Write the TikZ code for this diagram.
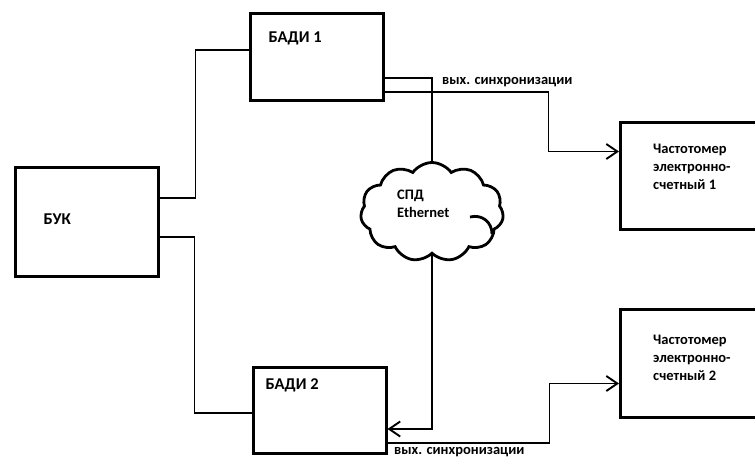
\documentclass[tikz,border=0pt]{standalone}
\usepackage{fontspec}
\setmainfont{Carlito}
\usetikzlibrary{arrows.meta,shapes.symbols}

\tikzset{
  unit/.style={draw, line width=3pt, inner sep=0pt},
  wire/.style={line width=1.9pt},
  flow/.style={wire, -{Straight Barb[length=11pt,width=15pt]}},
  title/.style={font=\fontsize{16.5}{19}\selectfont\bfseries, inner sep=0pt},
  note/.style={font=\fontsize{14.5}{18}\selectfont\bfseries, inner sep=0pt, align=left},
}

\begin{document}
\begin{tikzpicture}[x=1pt,y=-1pt]
  \useasboundingbox (0,0) rectangle (755,461);
  \clip (0,0) rectangle (755,461);

  % Blocks
  \node[unit, minimum width=143pt, minimum height=109pt] (buk) at (86.5,221.5) {};
  \node[unit, minimum width=133pt, minimum height=87pt] (badi1) at (316.5,56.5) {};
  \node[unit, minimum width=133pt, minimum height=86pt] (badi2) at (319.5,410) {};
  \node[unit, anchor=north west, minimum width=160pt, minimum height=107pt] (freq1) at (619,121) {};
  \node[unit, anchor=north west, minimum width=160pt, minimum height=108pt] (freq2) at (619,308) {};

  % Network cloud
  \node[cloud, draw, line width=2.8pt, cloud puffs=11, cloud puff arc=110, aspect=1.5,
        minimum width=143pt, minimum height=99pt, inner sep=0pt] (cloud) at (432,212) {};
  \draw[line width=2.8pt] ([shift={(38,5)}]cloud.center) .. controls ([shift={(50,2)}]cloud.center)
    and ([shift={(60,10)}]cloud.center) .. ([shift={(60,22)}]cloud.center);

  % Texts
  \node[title, anchor=west] (buktext) at ([shift={(30,-2.5)}]buk.west) {БУК};
  \node[title, anchor=west] (badi1text) at ([shift={(20,27)}]badi1.north west) {БАДИ 1};
  \node[title, anchor=west] (badi2text) at ([shift={(14,20)}]badi2.north west) {БАДИ 2};
  \node[note, anchor=west] (freq1text) at ([shift={(34,46)}]freq1.north west)
    {Частотомер\\электронно-\\счетный 1};
  \node[note, anchor=west] (freq2text) at ([shift={(34,50)}]freq2.north west)
    {Частотомер\\электронно-\\счетный 2};
  \node[note, anchor=west] (cloudtext) at ([shift={(-35,-8)}]cloud.center) {СПД\\Ethernet};
  \node[note, anchor=west] (sync1) at (442,82) {вых. синхронизации};
  \node[note, anchor=west] (sync2) at (394,452) {вых. синхронизации};

  % Links
  \draw[wire] ([yshift=23.5pt]buk.east) -- ++(36,0) |- ([yshift=6.5pt]badi1.west);
  \draw[wire] ([yshift=-15.5pt]buk.east) -- ++(35,0) |- ([yshift=-3pt]badi2.west);
  \draw[wire] ([yshift=-21.5pt]badi1.east) -| (cloud.north);
  \draw[flow] (cloud.south) |- ([yshift=-19pt]badi2.east);
  \draw[flow] ([yshift=-35.5pt]badi1.east) -- ++(164,0) |- ([yshift=24.5pt]freq1.west);
  \draw[flow] ([yshift=-33pt]badi2.east) -- ++(162,0) |- ([yshift=-20pt]freq2.west);
\end{tikzpicture}
\end{document}
